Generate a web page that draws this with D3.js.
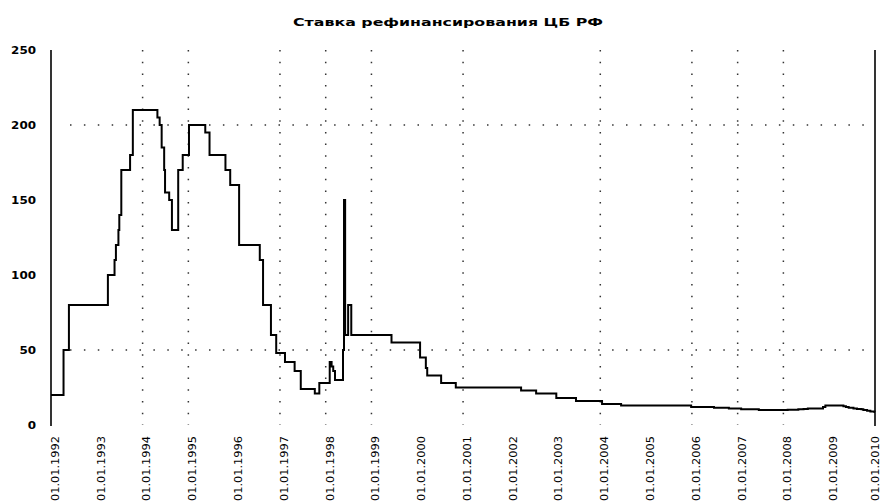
<!DOCTYPE html>
<html>
<head>
<meta charset="utf-8">
<script src="https://cdn.jsdelivr.net/npm/d3@7"></script>
<style>
  body { margin: 0; background: #fff; }
  svg { display: block; }
</style>
</head>
<body>
<div id="chart"></div>
<script>
// refinancing rate, date of change -> value (%)
const rate_dates = [
  "1992-01-01","1992-04-10","1992-05-23","1993-03-30","1993-05-22","1993-06-02","1993-06-22",
  "1993-06-29","1993-07-15","1993-09-23","1993-10-15","1994-04-29","1994-05-17","1994-06-02",
  "1994-06-22","1994-06-29","1994-08-01","1994-08-23","1994-10-12","1994-11-17","1995-01-06",
  "1995-05-16","1995-06-19","1995-10-24","1995-12-01","1996-02-10","1996-07-24","1996-08-19",
  "1996-10-21","1996-12-02","1997-02-10","1997-04-28","1997-06-16","1997-10-06","1997-11-11",
  "1998-02-02","1998-02-17","1998-03-02","1998-03-16","1998-05-19","1998-05-27","1998-06-05",
  "1998-06-29","1998-07-24","1999-06-10","2000-01-24","2000-03-10","2000-03-21","2000-07-10",
  "2000-11-04","2002-04-09","2002-08-07","2003-01-15","2003-06-21","2004-01-15","2004-06-15",
  "2005-12-26","2006-06-26","2006-10-23","2007-01-29","2007-06-19","2008-02-04","2008-04-29",
  "2008-06-10","2008-07-14","2008-11-12","2008-12-01","2009-04-24","2009-05-14","2009-06-05",
  "2009-07-13","2009-08-10","2009-09-15","2009-09-30","2009-10-30","2009-11-25","2009-12-28",
  "2010-01-01"
];
const rate_values = [
  20, 50, 80, 100, 110, 120, 130,
  140, 170, 180, 210, 205, 200, 185,
  170, 155, 150, 130, 170, 180, 200,
  195, 180, 170, 160, 120, 110, 80,
  60, 48, 42, 36, 24, 21, 28,
  42, 39, 36, 30, 50, 150, 60,
  80, 60, 55, 45, 38, 33, 28,
  25, 23, 21, 18, 16, 14, 13,
  12, 11.5, 11, 10.5, 10, 10.25, 10.5,
  10.75, 11, 12, 13, 12.5, 12, 11.5,
  11, 10.75, 10.5, 10, 9.5, 9, 8.75,
  8.75
];
const x_tick_years = d3.range(1992, 2011);
const y_ticks = [0, 50, 100, 150, 200, 250];
const grid_years = [1994, 1995, 1997, 1998, 1999, 2001, 2004, 2006, 2007, 2008];
const grid_values = [50, 200];
const chart_title = "Ставка рефинансирования ЦБ РФ";

const width = 883, height = 504;
const margin = {top: 50, right: 8, bottom: 79, left: 51};

const parse = d3.timeParse("%Y-%m-%d");
const data = rate_dates.map((d, i) => ({date: parse(d), value: rate_values[i]}));

const svg = d3.select("#chart")
  .append("svg")
    .attr("width", width)
    .attr("height", height);

const x = d3.scaleTime()
  .domain([new Date(1992, 0, 1), new Date(2010, 0, 1)])
  .range([margin.left, width - margin.right]);

const y = d3.scaleLinear()
  .domain([0, 250])
  .range([height - margin.bottom, margin.top]);

// title
svg.append("text")
  .attr("x", 448)
  .attr("y", 26)
  .attr("text-anchor", "middle")
  .attr("font-family", "DejaVu Sans, sans-serif")
  .attr("font-weight", "bold")
  .attr("font-size", 11)
  .attr("textLength", 310)
  .attr("lengthAdjust", "spacingAndGlyphs")
  .text(chart_title);

// dotted grid
svg.append("g")
  .selectAll("line")
  .data(grid_years)
  .join("line")
    .attr("x1", d => x(new Date(d, 0, 1)))
    .attr("x2", d => x(new Date(d, 0, 1)))
    .attr("y1", y(250))
    .attr("y2", y(0))
    .attr("stroke", "#333")
    .attr("stroke-width", 1.5)
    .attr("stroke-dasharray", "1.5,10.2");

svg.append("g")
  .selectAll("line")
  .data(grid_values)
  .join("line")
    .attr("x1", x.range()[0] + 19)
    .attr("x2", x.range()[1])
    .attr("y1", d => y(d))
    .attr("y2", d => y(d))
    .attr("stroke", "#333")
    .attr("stroke-width", 1.5)
    .attr("stroke-dasharray", "1.5,12.4");

// left and right borders
svg.append("g")
  .selectAll("line")
  .data(x.range())
  .join("line")
    .attr("x1", d => d)
    .attr("x2", d => d)
    .attr("y1", y(250))
    .attr("y2", y(0) + 1)
    .attr("stroke", "#000")
    .attr("stroke-width", 1.6);

// y labels
svg.append("g")
  .selectAll("text")
  .data(y_ticks)
  .join("text")
    .attr("x", 36)
    .attr("y", d => y(d))
    .attr("dy", "0.35em")
    .attr("text-anchor", "end")
    .attr("font-family", "DejaVu Sans, sans-serif")
    .attr("font-weight", "bold")
    .attr("font-size", 11)
    .attr("textLength", d => String(d).length * 8.3)
    .attr("lengthAdjust", "spacingAndGlyphs")
    .text(d => d);

// x labels, rotated
const fmt = d3.timeFormat("%d.%m.%Y");
svg.append("g")
  .selectAll("text")
  .data(x_tick_years)
  .join("text")
    .attr("transform", d => `translate(${Math.min(x(new Date(d, 0, 1)) + 4, width - 8)},436) rotate(-90)`)
    .attr("text-anchor", "end")
    .attr("dy", "0.35em")
    .attr("font-family", "DejaVu Sans, sans-serif")
    .attr("font-size", 11)
    .attr("textLength", 65)
    .attr("lengthAdjust", "spacingAndGlyphs")
    .text(d => fmt(new Date(d, 0, 1)));

// the rate line
const line = d3.line()
  .x(d => x(d.date))
  .y(d => y(d.value))
  .curve(d3.curveStepAfter);

svg.append("path")
  .datum(data)
  .attr("fill", "none")
  .attr("stroke", "#000")
  .attr("stroke-width", 2)
  .attr("d", line);
</script>
</body>
</html>
